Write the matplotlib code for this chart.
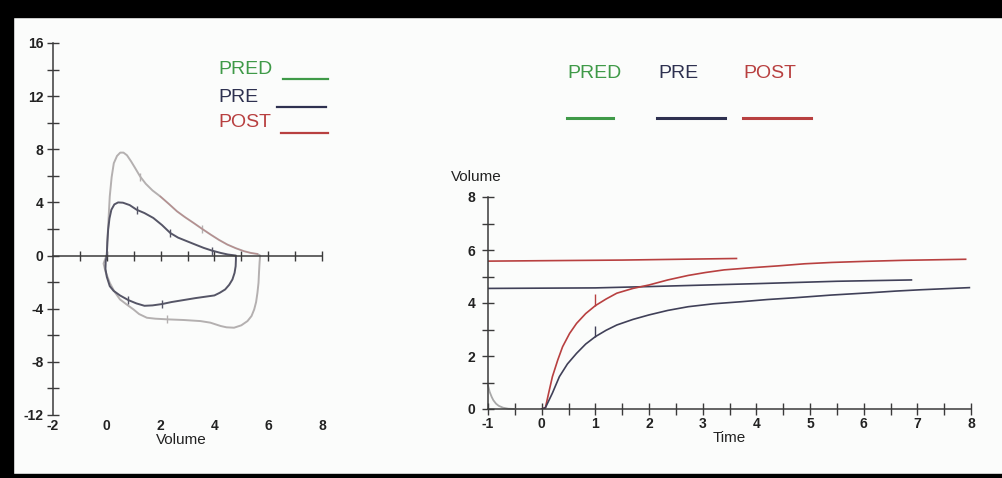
import numpy as np
import matplotlib
matplotlib.use('Agg')
import matplotlib.pyplot as plt
from matplotlib.ticker import MultipleLocator
from matplotlib.lines import Line2D
from matplotlib.patches import Rectangle

plt.rcParams['font.family'] = ['Liberation Sans', 'DejaVu Sans']
plt.rcParams['axes.unicode_minus'] = False

W, H = 1003, 478

# flow-volume loops (left chart): volume -> flow
post_loop_vol = [0, 0.02, 0.05, 0.11, 0.18, 0.26, 0.38, 0.5, 0.62, 0.75, 0.9, 1.05, 1.24, 1.45, 1.7,
                 1.99, 2.3, 2.61, 2.9, 3.23, 3.55, 3.86, 4.17, 4.48, 4.8, 5.1, 5.35, 5.6, 5.7,
                 5.68, 5.66, 5.64, 5.6, 5.55, 5.48, 5.38, 5.23, 5.0, 4.73, 4.45, 4.23, 3.85, 3.48,
                 2.86, 2.24, 1.8, 1.49, 1.2, 0.99, 0.75, 0.49, 0.28, 0.11, -0.05, -0.12, -0.05, 0]
post_loop_flow = [0, 1.0, 2.2, 4.45, 5.9, 6.95, 7.5, 7.75, 7.75, 7.55, 7.1, 6.6, 5.95, 5.4, 4.9,
                  4.45, 3.9, 3.33, 2.9, 2.45, 2.0, 1.58, 1.18, 0.83, 0.55, 0.33, 0.2, 0.12, 0,
                  -0.5, -1.2, -2.05, -2.8, -3.5, -4.05, -4.55, -4.93, -5.25, -5.43, -5.4, -5.3, -5.05, -4.93,
                  -4.85, -4.8, -4.75, -4.68, -4.4, -4.05, -3.7, -3.3, -2.7, -2.05, -1.2, -0.6, -0.2, 0]

pre_loop_vol = [0, 0.02, 0.05, 0.1, 0.17, 0.28, 0.42, 0.6, 0.85, 1.11, 1.4, 1.73, 2.05, 2.36, 2.65,
                2.98, 3.3, 3.6, 3.9, 4.23, 4.5, 4.73, 4.8,
                4.8, 4.79, 4.75, 4.67, 4.55, 4.4, 4.2, 4.0, 3.65, 3.3, 2.85, 2.4, 2.05, 1.7, 1.4,
                1.1, 0.8, 0.49, 0.25, 0.11, 0.0, -0.05, -0.04, 0]
pre_loop_flow = [0, 1.0, 1.95, 2.8, 3.45, 3.85, 4.0, 3.98, 3.8, 3.45, 3.2, 2.83, 2.3, 1.7, 1.35,
                 1.08, 0.82, 0.58, 0.38, 0.2, 0.08, 0.02, 0,
                 -0.3, -0.8, -1.3, -1.8, -2.2, -2.55, -2.8, -3.0, -3.1, -3.2, -3.35, -3.5, -3.65, -3.75, -3.78,
                 -3.6, -3.35, -3.0, -2.65, -2.3, -1.6, -1.0, -0.4, 0]

# volume-time curves (right chart)
pre_time = [0, 0.07, 0.2, 0.33, 0.48, 0.65, 0.82, 1.0, 1.2, 1.4, 1.7, 2.0, 2.35, 2.73, 3.2, 3.73, 4.2,
            4.73, 5.4, 6.07, 6.6, 7.07, 7.97]
pre_vol = [0, 0.05, 0.6, 1.22, 1.7, 2.1, 2.45, 2.73, 2.97, 3.17, 3.38, 3.55, 3.72, 3.86, 3.97, 4.05,
           4.13, 4.2, 4.3, 4.38, 4.45, 4.5, 4.58]

post_time = [0, 0.07, 0.13, 0.2, 0.3, 0.39, 0.52, 0.65, 0.82, 1.0, 1.2, 1.4, 1.7, 2.0, 2.35, 2.73, 3.05,
             3.4, 3.9, 4.4, 4.9, 5.4, 6.0, 6.73, 7.9]
post_vol = [0, 0.05, 0.6, 1.22, 1.85, 2.35, 2.85, 3.23, 3.6, 3.9, 4.15, 4.37, 4.55, 4.68, 4.87, 5.04, 5.15,
            5.25, 5.33, 5.4, 5.48, 5.53, 5.57, 5.61, 5.65]

pre_level_t = [-1, 1, 2, 4, 5.5, 6.89]
pre_level_v = [4.55, 4.57, 4.62, 4.73, 4.82, 4.87]
post_level_t = [-1, 1.5, 3.63]
post_level_v = [5.58, 5.62, 5.68]

pred_time = [-1, -0.97, -0.93, -0.9, -0.85, -0.8, -0.72, -0.62, -0.5]
pred_vol = [0.9, 0.65, 0.45, 0.33, 0.2, 0.12, 0.05, 0.01, 0]

fev1_pre, fev1_post = 2.73, 3.9

labels = ['PRED', 'PRE', 'POST']
c_pred = '#3f9a48'
c_pre = '#2e3150'
c_post = '#b84040'

fig = plt.figure(figsize=(W / 100, H / 100), dpi=100)
fig.patch.set_facecolor('#fbfcfb')


def fx(px):
    return px / W


def fy(py):
    return 1 - py / H


axis_col = '#3a3a3a'

# ---- left: flow-volume
ax1 = fig.add_axes([fx(53), fy(415), (322 - 53) / W, (415 - 43) / H])
ax1.set_facecolor('none')
ax1.set_xlim(-2, 8)
ax1.set_ylim(-12, 16)
ax1.spines['top'].set_visible(False)
ax1.spines['right'].set_visible(False)
ax1.spines['bottom'].set_position(('data', 0))
for s in ['left', 'bottom']:
    ax1.spines[s].set_color(axis_col)
    ax1.spines[s].set_linewidth(1.1)
ax1.set_xticks(range(-1, 9))
ax1.tick_params(axis='x', labelbottom=False, direction='inout', length=7, width=1, color=axis_col)
ax1.set_yticks(range(-12, 17, 4))
ax1.yaxis.set_minor_locator(MultipleLocator(2))
ax1.tick_params(axis='y', which='both', direction='inout', length=8, width=1, color=axis_col, pad=3)
for t in ax1.get_yticklabels():
    t.set_fontsize(10)
    t.set_fontweight('bold')
    t.set_color('#222222')
sec = ax1.secondary_xaxis(0.0)
sec.set_xticks(range(-2, 9, 2))
sec.tick_params(length=0, pad=3, labelsize=10)
sec.spines['bottom'].set_visible(False)
for t in sec.get_xticklabels():
    t.set_fontweight('bold')
    t.set_color('#222222')
ax1.text(0.476, -0.068, 'Volume', transform=ax1.transAxes, ha='center', va='center', size=11, color='#222222')

ax1.plot(post_loop_vol, post_loop_flow, color='#b4b0b0', lw=1.4,
         marker='|', markevery=[12, 20, 44], ms=6, mew=1)
ax1.plot(post_loop_vol[15:28], post_loop_flow[15:28], color=c_post, lw=1.0, alpha=0.3)
ax1.plot(pre_loop_vol, pre_loop_flow, color='#555566', lw=1.4,
         marker='|', markevery=[9, 13, 18, 35, 39], ms=6, mew=1)

# ---- right: volume-time
ax2 = fig.add_axes([fx(488), fy(409), (971 - 488) / W, 212 / H])
ax2.set_facecolor('none')
ax2.set_xlim(-1, 8)
ax2.set_ylim(0, 8)
ax2.spines['top'].set_visible(False)
ax2.spines['right'].set_visible(False)
for s in ['left', 'bottom']:
    ax2.spines[s].set_color(axis_col)
    ax2.spines[s].set_linewidth(1.1)
ax2.set_xticks(range(-1, 9))
ax2.xaxis.set_minor_locator(MultipleLocator(0.5))
ax2.set_yticks(range(0, 9, 2))
ax2.yaxis.set_minor_locator(MultipleLocator(1))
ax2.tick_params(axis='both', which='both', direction='inout', length=8, width=1, color=axis_col)
ax2.tick_params(axis='x', pad=2)
ax2.tick_params(axis='y', pad=5)
for t in ax2.get_xticklabels() + ax2.get_yticklabels():
    t.set_fontsize(10)
    t.set_fontweight('bold')
    t.set_color('#222222')
ax2.text(0.5, -0.135, 'Time', transform=ax2.transAxes, ha='center', va='center', size=11, color='#222222')
ax2.text(-0.025, 1.094, 'Volume', transform=ax2.transAxes, ha='center', va='center', size=11, color='#222222')

ax2.plot(pred_time, pred_vol, color='#a8a8a8', lw=1.3, clip_on=False)
ax2.plot(post_level_t, post_level_v, color=c_post, lw=1.2)
ax2.plot(pre_level_t, pre_level_v, color='#404058', lw=1.2)
ax2.plot(post_time, post_vol, color=c_post, lw=1.2)
ax2.plot(pre_time, pre_vol, color='#404058', lw=1.2)
ax2.vlines(1, fev1_post, fev1_post + 0.45, color=c_post, lw=1)
ax2.vlines(1, fev1_pre, fev1_pre + 0.4, color='#404058', lw=1)

# ---- legends
cols = [c_pred, c_pre, c_post]
left_text_y = [70, 98, 123]
left_lines = [(283, 328, 79), (277, 326, 107), (281, 328, 133)]
for lab, col, ty, (x0, x1, ly) in zip(labels, cols, left_text_y, left_lines):
    fig.text(fx(218), fy(ty), lab, color=col, size=14, ha='left', va='center')
    fig.add_artist(Line2D([fx(x0), fx(x1)], [fy(ly), fy(ly)], color=col, lw=1.6, transform=fig.transFigure))

right_text_x = [567, 658, 743]
right_lines = [(567, 613), (657, 725), (743, 811)]
for lab, col, tx, (x0, x1) in zip(labels, cols, right_text_x, right_lines):
    fig.text(fx(tx), fy(73), lab, color=col, size=14, ha='left', va='center')
    fig.add_artist(Line2D([fx(x0), fx(x1)], [fy(118), fy(118)], color=col, lw=2.2, transform=fig.transFigure))

# ---- black frame of the scan
fig.patches.append(Rectangle((0, fy(17)), 1, 17 / H, transform=fig.transFigure, color='black', zorder=10))
fig.patches.append(Rectangle((0, 0), 13 / W, 1, transform=fig.transFigure, color='black', zorder=10))
fig.patches.append(Rectangle((0, 0), 1, 4 / H, transform=fig.transFigure, color='black', zorder=10))

fig.savefig('out.png', dpi=100, facecolor=fig.get_facecolor())
